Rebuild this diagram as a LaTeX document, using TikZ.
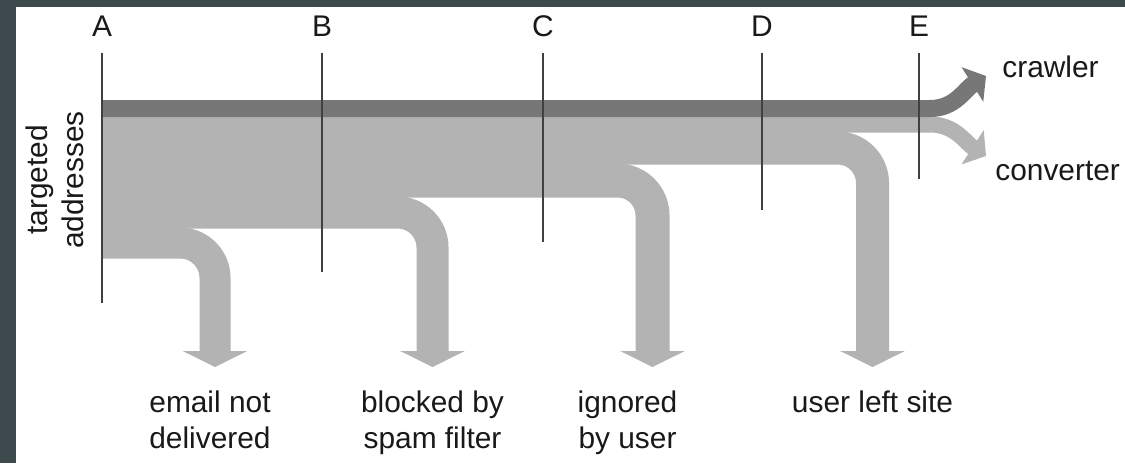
\documentclass[tikz,border=0pt]{standalone}
\usepackage{fontspec}
\setmainfont{Liberation Sans}
\usepackage{xcolor}
\usepackage{tikz}
\usetikzlibrary{arrows.meta, positioning}

\definecolor{keptgray}{HTML}{777777}
\definecolor{lostgray}{HTML}{B3B3B3}
\definecolor{framegray}{HTML}{3E494E}

\begin{document}
\begin{tikzpicture}[
        font=\fontsize{17}{20.5}\selectfont,
        text=black!90,
        stage/.style={draw=black!75, line width=1pt},
        band/.style={line width=#1},
        drop/.style={band=#1, draw=lostgray, rounded corners=0.7cm, -{Triangle[width=1.28cm, length=0.32cm]}},
        droplabel/.style={align=center, inner sep=0pt},
        sinklabel/.style={anchor=base west, inner sep=0pt}
    ]
    \useasboundingbox (0,0) rectangle (22.5,-9.26);
    \fill[framegray] (0,0) rectangle (22.5,-9.26);
    \fill[white] (0.32,-0.14) rectangle (22.5,-9.26);

    % Source label, turned on its side
    \node[rotate=90, align=center] (targets) at (1.1,-3.6) {targeted\\addresses};

    % Start of every band at line A
    \coordinate (srcCrawl) at (2.06,-2.17);
    \coordinate (srcConv) at (2.06,-2.49);
    \coordinate (srcLeft) at (2.06,-2.96);
    \coordinate (srcIgnore) at (2.06,-3.61);
    \coordinate (srcSpam) at (2.06,-4.25);
    \coordinate (srcMail) at (2.06,-4.86);

    % Arrow ends and the losses below them
    \coordinate (endMail) at (4.3,-7.34);
    \coordinate (endSpam) at (8.65,-7.34);
    \coordinate (endIgnore) at (13.05,-7.34);
    \coordinate (endLeft) at (17.45,-7.34);
    \node[droplabel, below=0.46cm of endMail, xshift=-0.1cm] (lostMail) {email not\\delivered};
    \node[droplabel, below=0.46cm of endSpam] (lostSpam) {blocked by\\spam filter};
    \node[droplabel, below=0.46cm of endIgnore, xshift=-0.5cm] (lostIgnore) {ignored\\by user};
    \node[droplabel, below=0.46cm of endLeft] (lostLeft) {user left site};

    % The two kept flows on the right
    \coordinate (splitCrawl) at (18.6,-2.17);
    \coordinate (splitConv) at (18.6,-2.49);
    \coordinate (endCrawl) at (19.72,-1.52);
    \coordinate (endConv) at (19.72,-3.12);
    \node[sinklabel] (crawler) at (20.04,-1.54) {crawler};
    \node[sinklabel] (converter) at (19.9,-3.6) {converter};

    % Bands, bottom one first
    \draw[drop=0.62cm] (srcMail) -| (endMail);
    \draw[drop=0.64cm] (srcSpam) -| (endSpam);
    \draw[drop=0.68cm] (srcIgnore) -| (endIgnore);
    \draw[drop=0.66cm] (srcLeft) -| (endLeft);
    \draw[band=0.32cm, draw=lostgray, -{Triangle[width=0.8cm, length=0.32cm]}]
        (srcConv) -- (splitConv) to[out=0, in=147] (endConv);
    \draw[band=0.34cm, draw=keptgray, -{Triangle[width=0.8cm, length=0.32cm]}]
        (srcCrawl) -- (splitCrawl) to[out=0, in=212] (endCrawl);

    % Stage markers A to E
    \foreach \lab/\x/\yb in {A/2.04/6.06, B/6.44/5.44, C/10.86/4.84, D/15.24/4.20, E/18.38/3.58} {
        \node[anchor=base] (stage\lab) at (\x,-0.72) {\lab};
        \draw[stage] (\x,-1.06) -- (\x,-\yb);
    }
\end{tikzpicture}
\end{document}
